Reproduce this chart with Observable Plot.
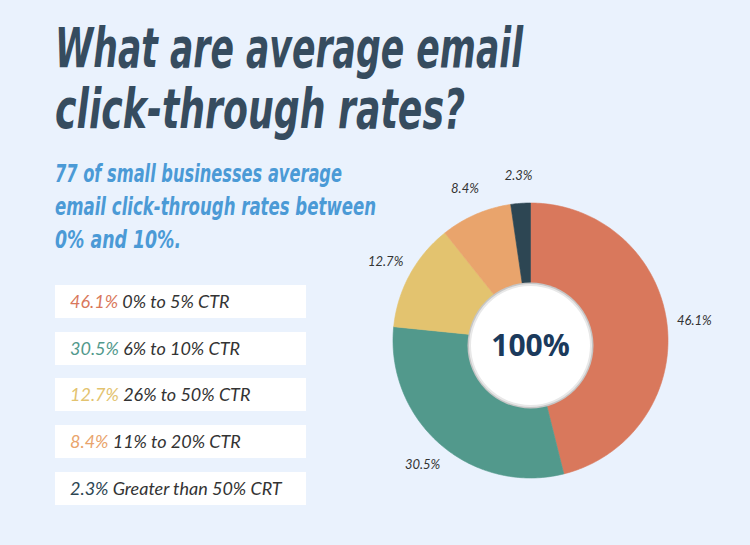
<!DOCTYPE html>
<html>
<head>
<meta charset="utf-8">
<script src="https://cdn.jsdelivr.net/npm/d3@7"></script>
<script src="https://cdn.jsdelivr.net/npm/@observablehq/plot@0.6"></script>
<style>
  html, body { margin: 0; padding: 0; }
  body { width: 750px; height: 545px; overflow: hidden; background: #eaf2fd; }
  #wrap { position: relative; width: 750px; height: 545px; background: #eaf2fd; }
  .title { position: absolute; left: 55px; font-family: "Liberation Sans Narrow", "DejaVu Sans Condensed", sans-serif;
           font-weight: bold; font-style: italic; font-size: 56px; line-height: 56px; color: #364c5f;
           white-space: nowrap; transform-origin: 0 0; margin: 0; }
  .sub { position: absolute; left: 55px; font-family: "Liberation Sans Narrow", "DejaVu Sans Condensed", sans-serif;
         font-weight: bold; font-style: italic; font-size: 24px; line-height: 24px; color: #4b9ad6;
         white-space: nowrap; transform-origin: 0 0; margin: 0; }
  .box { position: absolute; left: 55px; width: 251px; height: 33px; background: #fff;
         font-family: Lato, "Open Sans", sans-serif; font-style: italic; font-weight: 400; font-size: 18px;
         line-height: 33px; color: #333; padding-left: 15px; box-sizing: border-box; white-space: nowrap; }
  #pie { position: absolute; left: 335px; top: 170px; }
</style>
</head>
<body>
<div id="wrap">
  <h1 class="title" style="top:20px" data-w="468">What are average email</h1>
  <h1 class="title" style="top:81px" data-w="410">click-through rates?</h1>
  <div class="sub" style="top:162px" data-w="287">77 of small businesses average</div>
  <div class="sub" style="top:195px" data-w="321">email click-through rates between</div>
  <div class="sub" style="top:228px" data-w="126">0% and 10%.</div>
  <div id="legend"></div>
  <div id="pie"></div>
</div>
<script>
// ---- data ----
const categories = ["0% to 5% CTR", "6% to 10% CTR", "26% to 50% CTR", "11% to 20% CTR", "Greater than 50% CRT"];
const shares = [46.1, 30.5, 12.7, 8.4, 2.3];
const colors = ["#d9785c", "#52998c", "#e3c36f", "#e9a46c", "#2d4653"];
const centerLabel = "100%";

// fit title/subtitle widths
document.querySelectorAll(".title, .sub").forEach(el => {
  const target = +el.dataset.w;
  const w = el.getBoundingClientRect().width;
  if (w > 0) el.style.transform = `scaleX(${target / w})`;
});

// legend
const legend = document.getElementById("legend");
categories.forEach((c, i) => {
  const b = document.createElement("div");
  b.className = "box";
  b.style.top = (285 + i * 46.7) + "px";
  const p = document.createElement("span");
  p.style.color = colors[i];
  p.textContent = shares[i] + "%";
  b.appendChild(p);
  b.appendChild(document.createTextNode(" " + c));
  legend.appendChild(b);
});

// pie geometry derived from the data
const total = d3.sum(shares);
const slices = [];
let acc = 0;
categories.forEach((c, i) => {
  const a0 = acc / total * 2 * Math.PI;
  acc += shares[i];
  const a1 = acc / total * 2 * Math.PI;
  slices.push({cat: c, share: shares[i], a0, a1, mid: (a0 + a1) / 2});
});
const pts = [];
for (const s of slices) {
  pts.push({cat: s.cat, x: 0, y: 0});
  const n = Math.max(2, Math.ceil((s.a1 - s.a0) / (Math.PI / 180)));
  for (let k = 0; k <= n; k++) {
    const a = s.a0 + (s.a1 - s.a0) * k / n;
    pts.push({cat: s.cat, x: Math.sin(a), y: Math.cos(a)});
  }
  pts.push({cat: s.cat, x: 0, y: 0});
}

const k = 137.5, W = 390, H = 340;
const chart = Plot.plot({
  width: W, height: H, margin: 0,
  x: {domain: [-W / 2 / k, W / 2 / k], axis: null},
  y: {domain: [-H / 2 / k, H / 2 / k], axis: null},
  color: {domain: categories, range: colors},
  style: {background: "transparent", overflow: "visible"},
  marks: [
    Plot.line(pts, {x: "x", y: "y", z: "cat", fill: "cat", stroke: "cat", strokeWidth: 0.6, curve: "linear-closed"}),
    Plot.text(slices, {
      x: d => 1.2 * Math.sin(d.mid), y: d => 1.2 * Math.cos(d.mid),
      text: d => d.share + "%", fontFamily: "Lato, sans-serif", fontStyle: "italic", fontWeight: 400,
      fontSize: 13, fill: "#333"
    }),
    Plot.dot([0], {x: () => 0, y: () => 0, r: 63, fill: "#c6c6c6", stroke: null, dy: 5}),
    Plot.dot([0], {x: () => 0, y: () => 0, r: 61.5, fill: "#e8e8e8", stroke: null, dy: 5}),
    Plot.dot([0], {x: () => 0, y: () => 0, r: 59.5, fill: "#ffffff", stroke: null, dy: 5}),
    Plot.text([centerLabel], {x: () => 0, y: () => 0, text: d => d, dy: 6, fontFamily: "Open Sans, sans-serif",
      fontWeight: "bold", fontSize: 30, fill: "#1b3a5c"})
  ]
});
document.getElementById("pie").appendChild(chart);
</script>
</body>
</html>
